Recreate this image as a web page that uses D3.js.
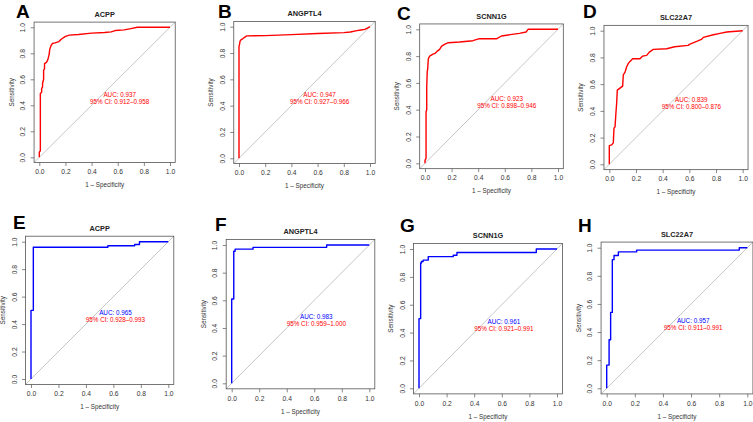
<!DOCTYPE html>
<html><head><meta charset="utf-8">
<script src="https://cdn.jsdelivr.net/npm/d3@7"></script>
<style>
body{margin:0;background:#fff}
svg{display:block}
text{font-family:"Liberation Sans",Arial,Helvetica,sans-serif}
</style>
</head><body>
<svg id="chart" width="753" height="422"></svg>
<script>
// ---------- data ----------
const panelLetters = ["A","B","C","D","E","F","G","H"];
const genes = ["ACPP","ANGPTL4","SCNN1G","SLC22A7","ACPP","ANGPTL4","SCNN1G","SLC22A7"];
const aucValues = ["0.937","0.947","0.923","0.839","0.965","0.983","0.961","0.957"];
const ciLow  = ["0.912","0.927","0.898","0.800","0.928","0.959","0.921","0.911"];
const ciHigh = ["0.958","0.966","0.946","0.876","0.993","1.000","0.991","0.991"];
const tickValues = [0,0.2,0.4,0.6,0.8,1.0];
const tickLabels = ["0.0","0.2","0.4","0.6","0.8","1.0"];

// ROC curves: [1 - specificity, sensitivity]
const rocA = [[0,0],[0,0.04],[0.008,0.05],[0.008,0.49],[0.018,0.5],[0.018,0.53],[0.025,0.54],[0.025,0.57],[0.033,0.6],[0.033,0.67],[0.04,0.68],[0.04,0.72],[0.055,0.73],[0.065,0.75],[0.075,0.79],[0.08,0.83],[0.09,0.86],[0.1,0.875],[0.12,0.88],[0.15,0.89],[0.17,0.91],[0.2,0.93],[0.23,0.94],[0.3,0.945],[0.4,0.955],[0.5,0.96],[0.55,0.965],[0.58,0.975],[0.65,0.98],[0.7,0.99],[0.75,1.0],[1,1]];
const rocB = [[0,0],[0,0.85],[0.005,0.87],[0.008,0.89],[0.015,0.9],[0.03,0.91],[0.05,0.925],[0.06,0.93],[0.2,0.932],[0.4,0.94],[0.6,0.948],[0.8,0.955],[0.85,0.96],[0.9,0.97],[0.93,0.975],[0.96,0.98],[0.98,0.99],[1,1]];
const rocC = [[0,0],[0,0.02],[0.008,0.04],[0.008,0.385],[0.013,0.4],[0.013,0.57],[0.017,0.69],[0.02,0.7],[0.025,0.78],[0.035,0.8],[0.06,0.815],[0.075,0.82],[0.09,0.835],[0.11,0.85],[0.125,0.875],[0.15,0.89],[0.175,0.9],[0.26,0.905],[0.36,0.915],[0.41,0.93],[0.54,0.93],[0.575,0.95],[0.64,0.96],[0.71,0.97],[0.76,0.98],[0.775,1.0],[1,1]];
const rocD = [[0,0],[0,0.14],[0.018,0.145],[0.03,0.16],[0.035,0.27],[0.043,0.28],[0.05,0.39],[0.055,0.455],[0.06,0.555],[0.08,0.57],[0.1,0.585],[0.105,0.67],[0.118,0.69],[0.13,0.73],[0.143,0.755],[0.155,0.77],[0.175,0.79],[0.23,0.79],[0.25,0.81],[0.28,0.815],[0.3,0.84],[0.33,0.86],[0.43,0.865],[0.49,0.88],[0.59,0.89],[0.605,0.9],[0.655,0.92],[0.69,0.935],[0.705,0.95],[0.78,0.97],[0.83,0.98],[0.88,0.99],[1,1]];
const rocE = [[0,0],[0,0.5],[0.017,0.5],[0.017,0.96],[0.56,0.96],[0.56,0.97],[0.755,0.97],[0.755,0.98],[0.79,0.98],[0.79,1],[1,1]];
const rocF = [[0,0],[0,0.61],[0.015,0.61],[0.015,0.955],[0.025,0.955],[0.025,0.97],[0.155,0.97],[0.155,0.983],[0.69,0.983],[0.69,1],[1,1]];
const rocG = [[0,0],[0,0.5],[0.012,0.5],[0.012,0.9],[0.018,0.9],[0.018,0.91],[0.03,0.91],[0.03,0.92],[0.067,0.92],[0.067,0.945],[0.248,0.945],[0.248,0.955],[0.275,0.955],[0.275,0.975],[0.85,0.975],[0.85,1],[1,1]];
const rocH = [[0,0],[0,0.165],[0.017,0.165],[0.017,0.345],[0.028,0.345],[0.028,0.54],[0.04,0.54],[0.04,0.915],[0.052,0.915],[0.052,0.945],[0.083,0.945],[0.083,0.97],[0.213,0.97],[0.213,0.983],[0.943,0.983],[0.943,1],[1,1]];
const rocCurves = [rocA,rocB,rocC,rocD,rocE,rocF,rocG,rocH];

// ---------- layout (pixel positions of data 0 and 1) ----------
const layout = [
  {x0:39.3, x1:170,   y0:157.3, y1:27.3,  lx:16,  ly:17.5},
  {x0:239,  x1:370,   y0:158.3, y1:26.7,  lx:218, ly:18},
  {x0:425,  x1:558,   y0:163.3, y1:29.3,  lx:397, ly:19.5},
  {x0:609.3,x1:742.7, y0:164.3, y1:30.7,  lx:583, ly:17.5},
  {x0:31,   x1:168.3, y0:379,   y1:241.7, lx:13,  ly:229},
  {x0:231.7,x1:369.3, y0:383.3, y1:245,   lx:215, ly:231},
  {x0:419,  x1:557,   y0:388.3, y1:249,   lx:400, ly:232},
  {x0:606.7,x1:747.3, y0:388.3, y1:247.7, lx:578, ly:232}
];

const RED = "#ff0000", BLUE = "#0000ff";
const svg = d3.select("#chart");
const FS = 6.3, TFS = 6.7;

rocCurves.forEach((pts, i) => {
  const L = layout[i];
  const top = i < 4;
  const curveColor = top ? RED : BLUE;
  const aucColor = top ? RED : BLUE;
  const x = d3.scaleLinear().domain([0,1]).range([L.x0, L.x1]);
  const y = d3.scaleLinear().domain([0,1]).range([L.y0, L.y1]);
  const bx0 = x(-0.04), bx1 = x(1.04), by0 = y(-0.04), by1 = y(1.04);
  const g = svg.append("g");

  // diagonal
  g.append("line").attr("x1", x(-0.04)).attr("y1", y(-0.04)).attr("x2", x(1.04)).attr("y2", y(1.04))
    .attr("stroke", "#b8b8b8").attr("stroke-width", 0.8);

  // curve
  g.append("path").datum(pts)
    .attr("d", d3.line().x(d => x(d[0])).y(d => y(d[1])))
    .attr("fill", "none").attr("stroke", curveColor).attr("stroke-width", 1.4)
    .attr("stroke-linejoin", "round");

  // box
  g.append("rect").attr("x", bx0).attr("y", by1).attr("width", bx1 - bx0).attr("height", by0 - by1)
    .attr("fill", "none").attr("stroke", "#555").attr("stroke-width", 0.8);

  // axes
  const xa = d3.axisBottom(x).tickValues(tickValues).tickFormat((d, k) => tickLabels[k]).tickSize(3.5).tickPadding(3.5);
  const ya = d3.axisLeft(y).tickValues(tickValues).tickFormat((d, k) => tickLabels[k]).tickSize(3.5).tickPadding(3);
  const gx = g.append("g").attr("transform", `translate(0,${by0})`).call(xa);
  const gy = g.append("g").attr("transform", `translate(${bx0},0)`).call(ya);
  [gx, gy].forEach(a => {
    a.select(".domain").remove();
    a.selectAll("line").attr("stroke", "#555").attr("stroke-width", 0.7);
    a.selectAll("text").attr("font-size", TFS).attr("fill", "#333").attr("font-family", "Liberation Sans, Arial, sans-serif");
  });
  gy.selectAll(".tick text")
    .attr("x", null).attr("dy", null)
    .attr("text-anchor", "middle")
    .attr("transform", "translate(-8.8,0) rotate(-90)");

  // axis titles
  g.append("text").attr("x", (bx0 + bx1) / 2).attr("y", by0 + 24.8)
    .attr("text-anchor", "middle").attr("font-size", FS).attr("fill", "#333").text("1 \u2013 Specificity");
  g.append("text").attr("transform", `translate(${bx0 - 20.5},${(by0 + by1) / 2}) rotate(-90)`)
    .attr("text-anchor", "middle").attr("font-size", FS).attr("fill", "#333").text("Sensitivity");

  // title
  g.append("text").attr("x", (bx0 + bx1) / 2).attr("y", by1 - 5)
    .attr("text-anchor", "middle").attr("font-size", 7.3).attr("font-weight", "bold").attr("fill", "#222").text(genes[i]);

  // panel letter
  g.append("text").attr("x", L.lx).attr("y", L.ly)
    .attr("font-size", 19).attr("font-weight", "bold").attr("fill", "#000").text(panelLetters[i]);

  // AUC text
  const cx = x(0.615), cy = y(0.48);
  g.append("text").attr("x", cx).attr("y", cy + 2.2).attr("text-anchor", "middle")
    .attr("font-size", FS).attr("fill", aucColor).text("AUC: " + aucValues[i]);
  g.append("text").attr("x", cx).attr("y", cy + 9.2).attr("text-anchor", "middle")
    .attr("font-size", FS).attr("fill", RED).text("95% CI: " + ciLow[i] + "\u2013" + ciHigh[i]);
});
</script>
</body></html>
